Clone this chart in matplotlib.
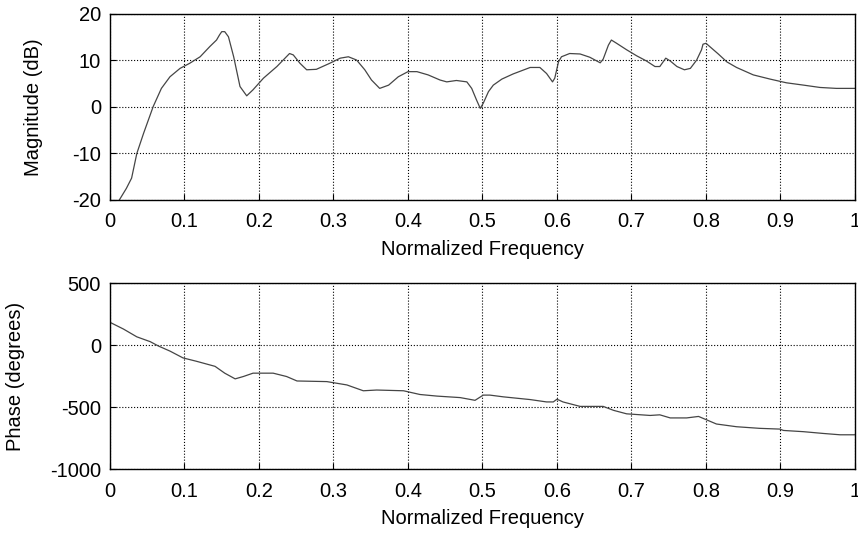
import matplotlib
matplotlib.use("Agg")
from matplotlib import pyplot as plt
import numpy as np

# magnitude response (dB)
mag_f = [0.0125, 0.022, 0.029, 0.036, 0.045, 0.058, 0.069, 0.0805, 0.094, 0.107,
         0.121, 0.134, 0.143, 0.147, 0.150, 0.154, 0.159, 0.166, 0.1745, 0.1835,
         0.192, 0.206, 0.224, 0.241, 0.246, 0.255, 0.264, 0.277, 0.295, 0.309,
         0.320, 0.331, 0.342, 0.351, 0.362, 0.374, 0.387, 0.400, 0.412, 0.427,
         0.443, 0.452, 0.465, 0.479, 0.4855, 0.492, 0.497, 0.501, 0.508, 0.5145,
         0.526, 0.541, 0.564, 0.577, 0.586, 0.594, 0.597, 0.602, 0.606, 0.617,
         0.631, 0.644, 0.658, 0.662, 0.669, 0.673, 0.680, 0.6935, 0.707, 0.720,
         0.7315, 0.738, 0.746, 0.752, 0.761, 0.771, 0.779, 0.7875, 0.794, 0.796,
         0.800, 0.805, 0.8165, 0.828, 0.841, 0.8635, 0.886, 0.908, 0.931, 0.953,
         0.975, 1.0]
mag_db = [-20.0, -17.5, -15.3, -10.0, -5.7, 0.1, 4.0, 6.5, 8.3, 9.4,
          10.8, 13.0, 14.4, 15.5, 16.2, 16.2, 15.1, 10.8, 4.4, 2.4,
          3.7, 6.2, 8.7, 11.5, 11.2, 9.4, 8.0, 8.1, 9.4, 10.5,
          10.8, 10.1, 8.0, 5.8, 4.0, 4.7, 6.5, 7.6, 7.6, 6.9,
          5.8, 5.4, 5.7, 5.4, 4.0, 1.5, -0.3, 0.8, 3.3, 4.7,
          6.0, 7.1, 8.5, 8.5, 7.2, 5.4, 6.2, 9.7, 10.8, 11.5,
          11.4, 10.7, 9.5, 10.3, 13.3, 14.4, 13.7, 12.3, 11.0, 9.9,
          8.7, 8.7, 10.5, 9.9, 8.7, 8.0, 8.3, 10.1, 12.3, 13.5,
          13.7, 13.0, 11.4, 9.7, 8.5, 6.9, 6.0, 5.2, 4.7, 4.2,
          4.0, 4.0]

# phase response (degrees)
ph_f = [0.0, 0.018, 0.036, 0.054, 0.065, 0.0805, 0.098, 0.116, 0.141, 0.154,
        0.168, 0.179, 0.192, 0.219, 0.237, 0.251, 0.291, 0.318, 0.340, 0.358,
        0.394, 0.416, 0.439, 0.470, 0.490, 0.501, 0.510, 0.528, 0.564, 0.586,
        0.595, 0.600, 0.608, 0.631, 0.662, 0.676, 0.6935, 0.725, 0.738, 0.752,
        0.774, 0.790, 0.801, 0.814, 0.841, 0.872, 0.899, 0.904, 0.931, 0.957,
        0.980, 1.0]
ph_deg = [183, 129, 66, 27, -8, -49, -104, -131, -172, -227,
          -273, -254, -227, -227, -254, -290, -295, -322, -369, -363,
          -369, -399, -412, -424, -446, -404, -404, -418, -440, -459,
          -459, -437, -459, -495, -495, -527, -555, -568, -563, -588,
          -588, -576, -604, -637, -659, -672, -678, -689, -699, -713,
          -724, -724]

xtick_labels = ['0', '0.1', '0.2', '0.3', '0.4', '0.5', '0.6', '0.7', '0.8', '0.9', '1']

plt.rcParams['font.family'] = ['Liberation Sans', 'DejaVu Sans']
plt.rcParams['font.size'] = 14.5
plt.rcParams['axes.unicode_minus'] = False

fig = plt.figure(figsize=(8.58, 5.34), dpi=100)
ax1 = fig.add_axes([0.1282, 0.6255, 0.8683, 0.3483])
ax2 = fig.add_axes([0.1282, 0.1217, 0.8683, 0.3483])

ax1.plot(mag_f, mag_db, color='#454545', lw=0.9)
ax1.set_xlim(0, 1)
ax1.set_ylim(-20, 20)
ax1.set_yticks([-20, -10, 0, 10, 20])
ax1.set_ylabel('Magnitude (dB)')
ax1.yaxis.set_label_coords(-0.09, 0.5)

ax2.plot(ph_f, ph_deg, color='#454545', lw=0.9)
ax2.set_xlim(0, 1)
ax2.set_ylim(-1000, 500)
ax2.set_yticks([-1000, -500, 0, 500])
ax2.set_ylabel('Phase (degrees)')
ax2.yaxis.set_label_coords(-0.114, 0.5)

for ax in (ax1, ax2):
    ax.set_xticks(np.arange(0, 1.01, 0.1))
    ax.set_xticklabels(xtick_labels)
    ax.set_xlabel('Normalized Frequency')
    ax.xaxis.set_label_coords(0.5, -0.215)
    ax.grid(True, color='black', linestyle=':', linewidth=0.8)
    ax.tick_params(direction='in', length=4, width=0.8)
    ax.tick_params(axis='x', pad=9)
    ax.tick_params(axis='y', pad=6.5)
    for s in ax.spines.values():
        s.set_linewidth(1.0)

fig.savefig('out.png', dpi=100)
